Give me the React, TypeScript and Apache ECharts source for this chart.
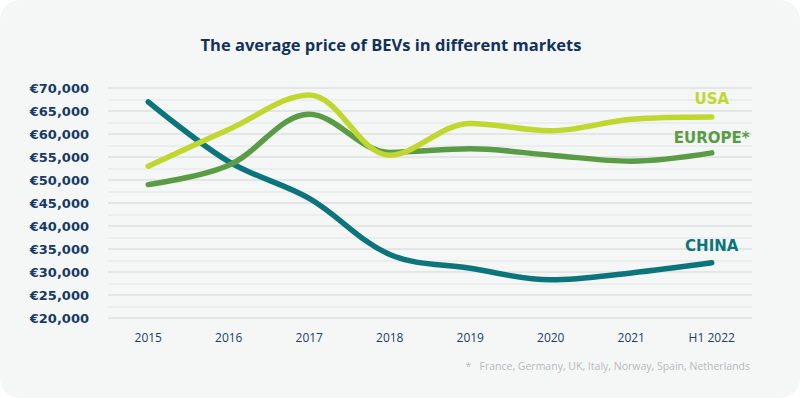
import React, { useEffect, useRef } from "react";
import * as echarts from "echarts";

const categories = ["2015", "2016", "2017", "2018", "2019", "2020", "2021", "H1 2022"];
const usaValues = [53000, 61000, 68500, 55400, 62300, 60700, 63200, 63700];
const europeValues = [49000, 53200, 64300, 56000, 56800, 55400, 54100, 55900];
const chinaValues = [67000, 54000, 46000, 33800, 30800, 28300, 29800, 32000];
const seriesNames = ["USA", "EUROPE*", "CHINA"];
const seriesColors = ["#c0d72f", "#5a9c46", "#0b757b"];
const titleText = "The average price of BEVs in different markets";
const footnoteText = "*   France, Germany, UK, Italy, Norway, Spain, Netherlands";

const FONT = "'Open Sans', 'Noto Sans', sans-serif";
const WIDE = "'DejaVu Sans', 'Open Sans', sans-serif";

function withEndLabel(values: number[], name: string, color: string, dist: number) {
  return values.map((v, i) =>
    i === values.length - 1
      ? {
          value: v,
          label: {
            show: true,
            position: "top",
            distance: dist,
            formatter: name,
            color,
            fontFamily: WIDE,
            fontWeight: 700,
            fontSize: 15,
          },
        }
      : v
  );
}

export default function App() {
  const ref = useRef<HTMLDivElement>(null);
  useEffect(() => {
    if (!ref.current) return;
    const chart = echarts.init(ref.current, undefined, { renderer: "svg" });
    const allValues = [usaValues, europeValues, chinaValues];
    const dists = [10, 7, 9];
    chart.setOption({
      animation: false,
      backgroundColor: "transparent",
      title: {
        text: titleText,
        left: 386,
        top: 31,
        textAlign: "center",
        textStyle: {
          fontFamily: FONT,
          fontWeight: 700,
          fontSize: 16.5,
          color: "#12315b",
        },
      },
      graphic: [
        {
          type: "text",
          right: 50,
          top: 360,
          style: {
            text: footnoteText,
            fontFamily: FONT,
            fontSize: 10.5,
            fill: "#b5b9ba",
          },
        },
      ],
      grid: { left: 108, right: 48, top: 88, bottom: 80 },
      xAxis: {
        type: "category",
        data: categories,
        boundaryGap: true,
        axisLine: { show: false },
        axisTick: { show: false },
        axisLabel: {
          margin: 13,
          fontFamily: FONT,
          fontSize: 12,
          color: "#1d3d66",
        },
      },
      yAxis: {
        type: "value",
        min: 20000,
        max: 70000,
        interval: 5000,
        axisLine: { show: false },
        axisTick: { show: false },
        minorTick: { show: false, splitNumber: 2 },
        minorSplitLine: { show: true, lineStyle: { color: "#e9ebeb", width: 1.5 } },
        splitLine: { lineStyle: { color: "#dcdfe0", width: 1.5 } },
        axisLabel: {
          margin: 19,
          fontFamily: WIDE,
          fontWeight: 700,
          fontSize: 13,
          color: "#173a67",
          formatter: (v: number) => "€" + v.toLocaleString("en-US"),
        },
      },
      series: seriesNames.map((name, i) => ({
        name,
        type: "line",
        smooth: 0.35,
        symbol: "circle",
        symbolSize: 0,
        showSymbol: true,
        data: withEndLabel(allValues[i], name, seriesColors[i], dists[i]),
        lineStyle: { color: seriesColors[i], width: 5.5, cap: "round" },
        itemStyle: { color: seriesColors[i] },
        z: 3 - i,
      })),
    });
    return () => chart.dispose();
  }, []);
  return (
    <div style={{ position: "absolute", left: 0, top: 0, width: 800, height: 398, background: "#ffffff" }}>
      <div
        ref={ref}
        style={{ width: 800, height: 398, background: "#f5f7f7", borderRadius: 20, overflow: "hidden" }}
      />
    </div>
  );
}
